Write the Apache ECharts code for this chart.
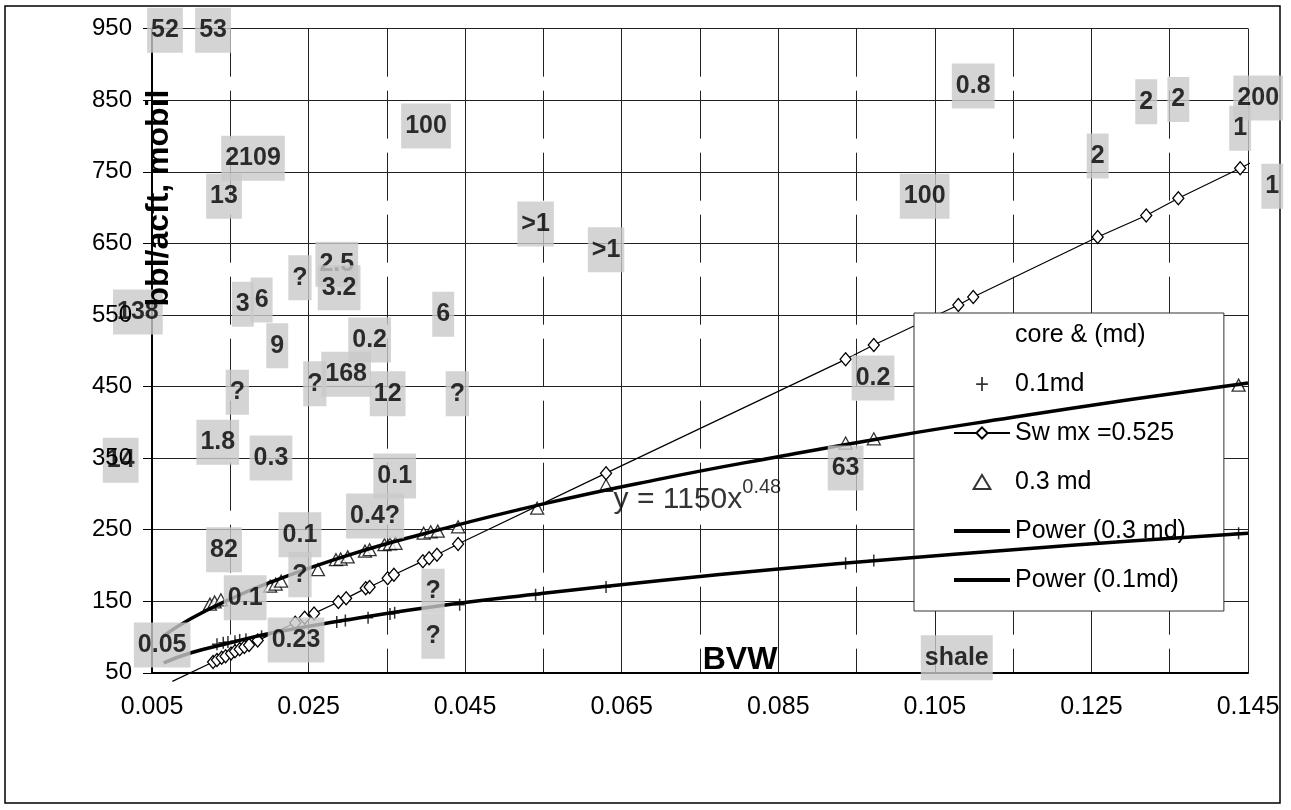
<!DOCTYPE html>
<html>
<head>
<meta charset="utf-8">
<title>BVW vs bbl/acft, mobil</title>
<script src="https://cdn.jsdelivr.net/npm/echarts@6.0.0/dist/echarts.min.js"></script>
<style>
  html, body { margin: 0; padding: 0; background: #fff; }
  #chart { width: 1291px; height: 810px; }
</style>
</head>
<body>
<div id="chart"></div>
<script>
// axis ranges
const xRange = [0.005, 0.145];
const yRange = [50, 950];

// 0.1md core points (crosses)
const perm01 = [
  [0.0133, 90], [0.0141, 92], [0.0147, 93], [0.0156, 94], [0.0162, 96], [0.0170, 97],
  [0.0190, 101], [0.0286, 121], [0.0297, 123], [0.0326, 127], [0.0354, 132], [0.0360, 134],
  [0.0443, 145], [0.0540, 159], [0.0630, 170], [0.0936, 203], [0.0972, 207], [0.1438, 245]
];

// Sw mx = 0.525 line (diamonds)
const swPoints = [
  [0.0128, 65], [0.0133, 68], [0.0139, 71], [0.0144, 73], [0.0151, 77], [0.0156, 80],
  [0.0162, 83], [0.0168, 86], [0.0174, 89], [0.0185, 95], [0.0233, 120], [0.0245, 127],
  [0.0257, 133], [0.0288, 149], [0.0298, 154], [0.0323, 168], [0.0328, 170], [0.0351, 182],
  [0.0359, 187], [0.0396, 206], [0.0404, 210], [0.0414, 215], [0.0441, 230], [0.0630, 329],
  [0.0936, 488], [0.0972, 508], [0.1080, 564], [0.1099, 575], [0.1258, 659], [0.1320, 689],
  [0.1361, 713], [0.1440, 755]
];
// ends of the Sw line (no marker)
const swEnds = [[0.0076, 38], [0.1461, 767]];

// 0.3 md core points (triangles)
const perm03 = [
  [0.0124, 146], [0.0130, 149], [0.0138, 152], [0.0201, 171], [0.0208, 174], [0.0215, 178],
  [0.0262, 194], [0.0285, 208], [0.0291, 209], [0.0300, 212], [0.0322, 220], [0.0328, 222],
  [0.0347, 229], [0.0354, 230], [0.0361, 231], [0.0397, 245], [0.0406, 247], [0.0415, 248],
  [0.0441, 254], [0.0542, 280], [0.0630, 312], [0.0936, 371], [0.0972, 377], [0.1438, 452]
];

// power trendlines
const trend03 = [
  [0.0065, 102], [0.010, 126], [0.015, 153], [0.020, 176], [0.030, 214], [0.040, 245],
  [0.055, 286], [0.070, 321], [0.085, 352], [0.100, 381], [0.115, 407], [0.130, 432], [0.145, 455]
];
const trend01 = [
  [0.0065, 64], [0.010, 78], [0.015, 92], [0.020, 105], [0.030, 124], [0.040, 141],
  [0.055, 161], [0.070, 179], [0.085, 195], [0.100, 209], [0.115, 222], [0.130, 234], [0.145, 245]
];

// core perm labels (grey boxes)
const coreLabels = [
  [0.00666, 948, '52'], [0.0128, 948, '53'], [0.0179, 769, '2109'], [0.0142, 716, '13'],
  [0.0032, 554, '138'], [0.0239, 602, '?'], [0.0286, 621, '2.5'], [0.0289, 588, '3.2'],
  [0.0166, 565, '3'], [0.0190, 571, '6'], [0.0210, 507, '9'], [0.0422, 551, '6'],
  [0.0328, 515, '0.2'], [0.0298, 467, '168'], [0.0258, 454, '?'], [0.0351, 440, '12'],
  [0.0440, 440, '?'], [0.0159, 442, '?'], [0.0134, 372, '1.8'], [0.0202, 350, '0.3'],
  [0.0010, 347, '14'], [0.0142, 222, '82'], [0.0239, 243, '0.1'], [0.0239, 187, '?'],
  [0.0169, 155, '0.1'], [0.0063, 89, '0.05'], [0.0234, 96, '0.23'], [0.0360, 325, '0.1'],
  [0.0335, 269, '0.4?'], [0.0409, 164, '?'], [0.0409, 101, '?'], [0.0540, 677, '>1'],
  [0.0630, 641, '>1'], [0.0400, 814, '100'], [0.1099, 870, '0.8'], [0.1037, 716, '100'],
  [0.1258, 772, '2'], [0.1320, 848, '2'], [0.1361, 851, '2'], [0.1463, 853, '200'],
  [0.1440, 811, '1'], [0.1481, 730, '1'], [0.0971, 462, '0.2'], [0.0936, 336, '63'],
  [0.1078, 71, 'shale']
];

// trendline equation anchor
const eqPos = [[0.0639, 292]];

const font = "'Liberation Sans', Arial, sans-serif";
const crossPath = 'path://M4.25,0h1.5v12h-1.5z M0,5.25h10v1.5h-10z';
const thickLineIcon = 'path://M0,0h56v4h-56z';
const triangleIcon = 'path://M6,0L12,10L0,10Z';

const chart = echarts.init(document.getElementById('chart'));

const swData = [{ value: swEnds[0], symbol: 'none' }]
  .concat(swPoints.map(p => ({ value: p })))
  .concat([{ value: swEnds[1], symbol: 'none' }]);

const option = {
  animation: false,
  backgroundColor: '#fff',
  textStyle: { fontFamily: font },
  grid: { left: 152, right: 43, top: 28.7, bottom: 137.2, containLabel: false },
  xAxis: [
    {
      type: 'value', min: xRange[0], max: xRange[1], interval: 0.02,
      axisLine: { show: true, onZero: false, lineStyle: { color: '#000', width: 2 } },
      axisTick: { show: false },
      axisLabel: { fontSize: 25, color: '#000', margin: 22, fontFamily: font,
        formatter: v => v.toFixed(3) },
      splitLine: { show: true, lineStyle: { color: '#222', width: 1 } }
    },
    {
      type: 'value', min: xRange[0], max: xRange[1], interval: 0.01, position: 'bottom',
      axisLine: { show: false }, axisTick: { show: false }, axisLabel: { show: false },
      splitLine: { show: true, lineStyle: { color: '#222', width: 1, type: [48, 14] } }
    }
  ],
  yAxis: [
    {
      type: 'value', min: yRange[0], max: yRange[1], interval: 100,
      axisLine: { show: true, onZero: false, lineStyle: { color: '#000', width: 2 } },
      axisTick: { show: true, length: 9, lineStyle: { color: '#000', width: 1 } },
      axisLabel: { show: false },
      splitLine: { show: true, lineStyle: { color: '#222', width: 1 } }
    },
    {
      // tick labels only, drawn above the grey label boxes
      type: 'value', min: yRange[0], max: yRange[1], interval: 100, position: 'left',
      zlevel: 2,
      axisLine: { show: false }, axisTick: { show: false }, splitLine: { show: false },
      axisLabel: { fontSize: 24, color: '#000', margin: 20, fontFamily: font }
    }
  ],
  legend: {
    orient: 'vertical', left: 914, top: 313,
    padding: [9, 38, 18, 39],
    itemWidth: 56, itemHeight: 14, itemGap: 23,
    symbolKeepAspect: true,
    backgroundColor: '#fff', borderColor: '#333', borderWidth: 1,
    selectedMode: false,
    textStyle: { fontSize: 25, lineHeight: 26, color: '#000', fontFamily: font },
    data: [
      { name: 'core & (md)', icon: 'none' },
      '0.1md',
      'Sw mx =0.525',
      { name: '0.3 md', icon: triangleIcon },
      { name: 'Power (0.3 md)', icon: thickLineIcon },
      { name: 'Power (0.1md)', icon: thickLineIcon }
    ]
  },
  series: [
    {
      name: '0.1md', type: 'scatter', z: 2,
      symbol: crossPath, symbolSize: [10, 12],
      itemStyle: { color: '#000' },
      data: perm01
    },
    {
      name: '0.3 md', type: 'scatter', z: 2,
      symbol: 'triangle', symbolSize: [13, 12],
      itemStyle: { color: '#fff', borderColor: '#000', borderWidth: 1.3 },
      data: perm03
    },
    {
      name: 'Sw mx =0.525', type: 'line', z: 3, clip: false,
      symbol: 'diamond', symbolSize: [11, 13], showAllSymbol: true,
      lineStyle: { color: '#000', width: 1.2 },
      itemStyle: { color: '#fff', borderColor: '#000', borderWidth: 1.3 },
      data: swData
    },
    {
      name: 'Power (0.3 md)', type: 'line', z: 5, smooth: true,
      symbol: 'none', lineStyle: { color: '#000', width: 3.5 },
      itemStyle: { color: '#000' },
      data: trend03
    },
    {
      name: 'Power (0.1md)', type: 'line', z: 5, smooth: true,
      symbol: 'none', lineStyle: { color: '#000', width: 3.5 },
      itemStyle: { color: '#000' },
      data: trend01
    },
    {
      type: 'scatter', z: 6, symbolSize: 1,
      itemStyle: { color: 'rgba(0,0,0,0)' },
      label: {
        show: true, position: 'right', distance: 0,
        formatter: '{a|y = 1150x}{b|0.48}',
        rich: {
          a: { fontSize: 30, lineHeight: 44, color: '#000', fontFamily: font },
          b: { fontSize: 20, lineHeight: 20, verticalAlign: 'top', color: '#000', fontFamily: font }
        }
      },
      data: eqPos
    },
    {
      name: 'core & (md)', type: 'scatter', zlevel: 1, z: 10, symbolSize: 1, clip: false,
      itemStyle: { color: 'rgba(0,0,0,0)' },
      label: {
        show: true, position: 'inside', formatter: '{b}',
        fontSize: 25, fontWeight: 'bold', lineHeight: 25, color: '#000', fontFamily: font,
        backgroundColor: '#c9c9c9', padding: [10, 4, 10, 4]
      },
      data: coreLabels.map(d => ({ value: [d[0], d[1]], name: d[2] }))
    }
  ],
  graphic: [
    {
      type: 'rect', silent: true, z: 0,
      shape: { x: 5, y: 6, width: 1275, height: 797 },
      style: { fill: 'none', stroke: '#000', lineWidth: 1.5 }
    },
    {
      type: 'text', x: 159, y: 198, rotation: Math.PI / 2, zlevel: 2, z: 20,
      style: { text: 'bbl/acft, mobil', font: "bold 32px 'Liberation Sans', Arial",
        fill: '#000', align: 'center', verticalAlign: 'middle' }
    },
    {
      type: 'text', x: 740, y: 660, zlevel: 2, z: 20,
      style: { text: 'BVW', font: "bold 32px 'Liberation Sans', Arial",
        fill: '#000', align: 'center', verticalAlign: 'middle' }
    }
  ]
};

chart.setOption(option);
</script>
</body>
</html>
